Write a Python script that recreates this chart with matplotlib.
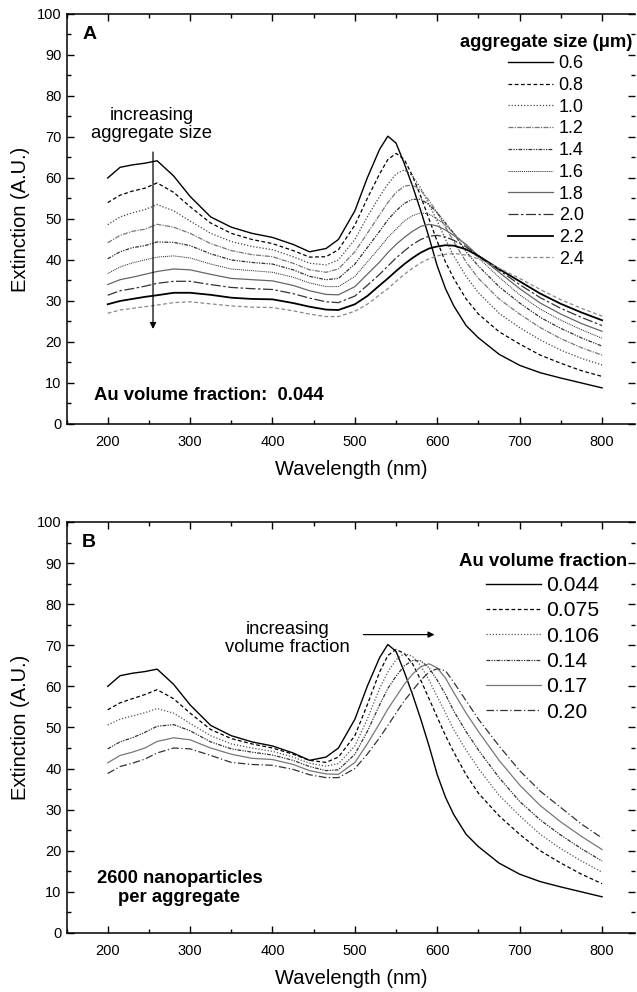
import matplotlib
matplotlib.use("Agg")
import matplotlib.pyplot as plt
from matplotlib.ticker import MultipleLocator

plt.rcParams['font.family'] = ['Liberation Sans', 'DejaVu Sans']

wl = [200, 215, 230, 245, 260, 280, 300, 325, 350, 375, 400, 425, 445, 465, 480,
      500, 515, 530, 540, 550, 560, 570, 580, 590, 600, 610, 620, 635, 650, 675,
      700, 725, 750, 775, 800]

# panel A: aggregate size (um), Au volume fraction 0.044
size_labels = ['0.6', '0.8', '1.0', '1.2', '1.4', '1.6', '1.8', '2.0', '2.2', '2.4']
a_06 = [60.0, 62.6, 63.2, 63.6, 64.2, 60.5, 55.5, 50.5, 48.0, 46.5, 45.5, 43.8, 42.0, 42.8, 45.0,
        52.0, 60.0, 67.0, 70.2, 68.5, 63.5, 58.0, 52.0, 45.5, 38.5, 33.0, 28.8, 24.0, 21.0, 17.0,
        14.3, 12.5, 11.2, 10.0, 8.8]
a_08 = [54.0, 55.8, 56.8, 57.5, 58.8, 56.5, 53.0, 49.0, 46.5, 45.0, 44.0, 42.3, 40.7, 40.8, 42.5,
        48.5, 55.0, 61.0, 64.5, 66.0, 64.5, 60.5, 55.5, 50.0, 44.5, 39.5, 35.5, 30.5, 26.8, 22.5,
        19.5, 16.8, 14.8, 13.0, 11.6]
a_10 = [48.6, 50.5, 51.5, 52.3, 53.5, 52.0, 49.5, 46.5, 44.5, 43.3, 42.5, 40.8, 39.2, 38.8, 40.0,
        45.0, 50.5, 55.5, 58.5, 61.0, 62.0, 60.5, 57.5, 53.5, 49.5, 45.0, 41.0, 36.0, 32.0, 27.0,
        23.5, 20.5, 18.0, 16.0, 14.4]
a_12 = [44.2, 46.0, 47.0, 47.5, 48.7, 48.0, 46.5, 44.0, 42.3, 41.3, 40.8, 39.2, 37.6, 37.0, 37.8,
        42.0, 46.5, 51.0, 54.0, 56.5, 58.0, 58.3, 57.0, 54.5, 51.5, 48.0, 44.5, 39.5, 35.5, 30.5,
        26.8, 23.5, 20.8, 18.6, 16.8]
a_14 = [40.3, 42.0, 43.0, 43.5, 44.4, 44.3, 43.5, 41.5, 40.0, 39.4, 39.0, 37.6, 36.0, 35.2, 35.5,
        39.0, 43.0, 47.0, 49.8, 52.0, 53.8, 54.8, 54.8, 53.5, 51.5, 49.0, 46.5, 42.0, 38.5, 33.5,
        29.5, 26.0, 23.3, 21.0, 19.0]
a_16 = [36.7, 38.3, 39.3, 40.0, 40.7, 41.0, 40.5, 39.0, 37.8, 37.4, 37.0, 35.8, 34.4, 33.5, 33.5,
        36.0, 39.5, 43.0, 45.5, 47.5, 49.5, 50.8, 51.5, 51.2, 50.0, 48.5, 46.5, 43.5, 40.5, 35.8,
        31.5, 28.0, 25.3, 23.0, 20.9]
a_18 = [34.0, 35.2, 35.8, 36.5, 37.2, 37.8, 37.6, 36.5, 35.5, 35.2, 34.9, 33.8, 32.5, 31.6, 31.5,
        33.5, 36.5, 39.5, 41.8, 43.8, 45.5, 47.0, 48.2, 48.7, 48.3, 47.3, 46.0, 43.8, 41.0, 37.0,
        33.0, 29.5, 26.8, 24.5, 22.6]
a_20 = [31.4, 32.5, 33.0, 33.6, 34.3, 34.8, 34.8, 34.0, 33.3, 33.0, 32.8, 31.8, 30.7, 29.8, 29.6,
        31.2, 33.8, 36.5, 38.5, 40.5, 42.2, 43.8, 45.0, 45.8, 46.0, 45.6, 44.8, 43.2, 41.0, 37.5,
        34.0, 30.8, 28.2, 26.0, 24.0]
a_22 = [29.2, 30.0, 30.5, 31.0, 31.4, 32.0, 32.0, 31.5, 30.8, 30.5, 30.4, 29.5, 28.6, 27.9, 27.8,
        29.2, 31.2, 33.8, 35.5, 37.3, 39.0, 40.5, 41.8, 42.8, 43.3, 43.6, 43.5, 42.6, 41.0, 37.8,
        34.8, 31.8, 29.3, 27.2, 25.3]
a_24 = [27.0, 27.8, 28.2, 28.6, 29.0, 29.6, 29.8, 29.3, 28.8, 28.5, 28.4, 27.6, 26.8, 26.2, 26.2,
        27.5, 29.2, 31.5, 33.0, 34.8, 36.5, 38.0, 39.3, 40.3, 41.0, 41.4, 41.6, 41.2, 40.3, 38.0,
        35.5, 32.8, 30.3, 28.2, 26.3]

# panel B: Au volume fraction, 2600 nanoparticles per aggregate
frac_labels = ['0.044', '0.075', '0.106', '0.14', '0.17', '0.20']
b_044 = a_06
b_075 = [54.3, 56.0, 57.0, 58.0, 59.2, 57.0, 53.5, 49.5, 47.3, 46.0, 45.0, 43.5, 42.0, 41.5, 42.8,
         48.0, 55.5, 63.5, 67.5, 69.0, 68.0, 65.5, 61.5, 57.0, 52.5, 48.0, 44.0, 38.5, 34.0, 28.5,
         24.0, 20.0, 17.0, 14.3, 12.0]
b_106 = [50.6, 52.0, 52.8, 53.6, 54.6, 53.5, 51.0, 48.0, 46.0, 45.0, 44.2, 42.8, 41.3, 40.6, 41.2,
         45.5, 52.0, 59.5, 63.5, 66.5, 68.0, 67.3, 65.0, 61.5, 57.5, 53.5, 49.5, 44.5, 40.0, 33.5,
         28.5, 24.0, 20.5, 17.5, 14.8]
b_14 = [44.8, 46.5, 47.5, 48.8, 50.3, 50.7, 49.2, 46.5, 44.8, 44.0, 43.3, 42.0, 40.5, 39.5, 39.7,
        43.5, 49.0, 55.5, 59.5, 62.5, 65.0, 66.3, 66.2, 64.5, 61.5, 58.0, 54.0, 49.0, 44.5, 37.8,
        32.0, 27.5, 23.8, 20.5, 17.5]
b_17 = [41.4, 43.2, 44.0, 45.0, 46.6, 47.5, 47.0, 45.0, 43.5, 42.5, 42.2, 41.0, 39.5, 38.7, 38.6,
        41.5, 46.0, 51.0, 54.5, 57.5, 60.5, 63.0, 64.8, 65.5, 64.5, 62.0, 58.5, 53.5, 49.0, 42.0,
        36.0, 31.0, 27.0, 23.5, 20.3]
b_20 = [38.8, 40.5, 41.3, 42.3, 43.8, 45.0, 44.8, 43.2, 41.5, 41.0, 40.8, 39.8, 38.5, 37.8, 37.8,
        40.0, 43.5, 47.5, 50.5, 53.5, 56.5, 59.0, 61.5, 63.5, 64.3, 63.8, 61.0, 56.5, 52.0, 45.5,
        39.5, 34.5, 30.5, 26.5, 23.1]

a_curves = [a_06, a_08, a_10, a_12, a_14, a_16, a_18, a_20, a_22, a_24]
b_curves = [b_044, b_075, b_106, b_14, b_17, b_20]

a_styles = [('-', 'black', 1.0),
            ((0, (3, 2)), 'black', 0.9),
            ((0, (1, 1.5)), '#444444', 0.9),
            ((0, (4, 1, 1, 1)), '#777777', 0.9),
            ((0, (3, 1, 1, 1, 1, 1)), '#333333', 0.9),
            ((0, (1, 1)), '#222222', 0.7),
            ('-', '#666666', 0.9),
            ((0, (8, 2, 2, 2)), '#333333', 0.9),
            ('-', 'black', 1.3),
            ((0, (3, 2)), '#888888', 0.9)]
b_styles = [('-', 'black', 1.0),
            ((0, (3, 2)), 'black', 0.9),
            ((0, (1, 1.5)), '#555555', 0.9),
            ((0, (3, 1, 1, 1, 1, 1)), '#333333', 0.9),
            ('-', '#777777', 0.9),
            ((0, (6, 2, 1, 2)), '#333333', 0.9)]


def setup_axes(ax):
    ax.set_xlim(150, 840)
    ax.set_ylim(0, 100)
    ax.xaxis.set_minor_locator(MultipleLocator(50))
    ax.yaxis.set_major_locator(MultipleLocator(10))
    ax.yaxis.set_minor_locator(MultipleLocator(5))
    ax.set_xticks([200, 300, 400, 500, 600, 700, 800])
    ax.tick_params(which='both', direction='in', top=True, right=True, labelsize=10.5, width=1)
    ax.tick_params(which='major', length=5)
    ax.tick_params(which='minor', length=3)
    ax.tick_params(axis='x', pad=8)
    ax.spines['right'].set_visible(False)
    for s in ['left', 'bottom', 'top']:
        ax.spines[s].set_linewidth(1.1)
    ax.set_xlabel('Wavelength (nm)', fontsize=14.5, labelpad=8)
    ax.set_ylabel('Extinction (A.U.)', fontsize=14.5, labelpad=5)


fig = plt.figure(figsize=(6.37, 9.92), dpi=100)
axA = fig.add_axes([0.1044, 0.5726, 0.8925, 0.4133])
axB = fig.add_axes([0.1044, 0.0595, 0.8925, 0.4143])

# panel A
handles = []
for y, (ls, c, lw) in zip(a_curves, a_styles):
    h, = axA.plot(wl, y, linestyle=ls, color=c, lw=lw)
    handles.append(h)
setup_axes(axA)
axA.legend(handles, size_labels, title='aggregate size (\u03bcm)', frameon=False,
           loc='upper right', bbox_to_anchor=(0.995, 0.952), borderaxespad=0, borderpad=0,
           fontsize=13, handlelength=2.5, handletextpad=0.3, labelspacing=0.26,
           title_fontproperties={'weight': 'bold', 'size': 13.2})
axA.text(169, 95, 'A', fontsize=14, fontweight='bold', va='center')
axA.text(253, 73, 'increasing\naggregate size', fontsize=13.3, ha='center', va='center',
         linespacing=1.1)
axA.annotate('', xy=(255, 22.5), xytext=(255, 67),
             arrowprops=dict(arrowstyle='-|>', color='black', lw=0.9, mutation_scale=9))
axA.text(183, 7, 'Au volume fraction:  0.044', fontsize=13.3, fontweight='bold', va='center')

# panel B
handles = []
for y, (ls, c, lw) in zip(b_curves, b_styles):
    h, = axB.plot(wl, y, linestyle=ls, color=c, lw=lw)
    handles.append(h)
setup_axes(axB)
axB.legend(handles, frac_labels, title='Au volume fraction', frameon=False,
           loc='upper right', bbox_to_anchor=(0.986, 0.925), borderaxespad=0, borderpad=0,
           fontsize=15.2, handlelength=2.6, handletextpad=0.25, labelspacing=0.3,
           title_fontproperties={'weight': 'bold', 'size': 13.4})
axB.text(169, 95, 'B', fontsize=14, fontweight='bold', va='center')
axB.text(418, 71.6, 'increasing\nvolume fraction', fontsize=13.2, ha='center', va='center',
         linespacing=1.1)
axB.annotate('', xy=(600, 72.6), xytext=(507, 72.6),
             arrowprops=dict(arrowstyle='-|>', color='black', lw=0.9, mutation_scale=9))
axB.text(287, 11, '2600 nanoparticles\nper aggregate', fontsize=13.3, fontweight='bold',
         ha='center', va='center', linespacing=1.15)

fig.savefig('out.png', dpi=100)
